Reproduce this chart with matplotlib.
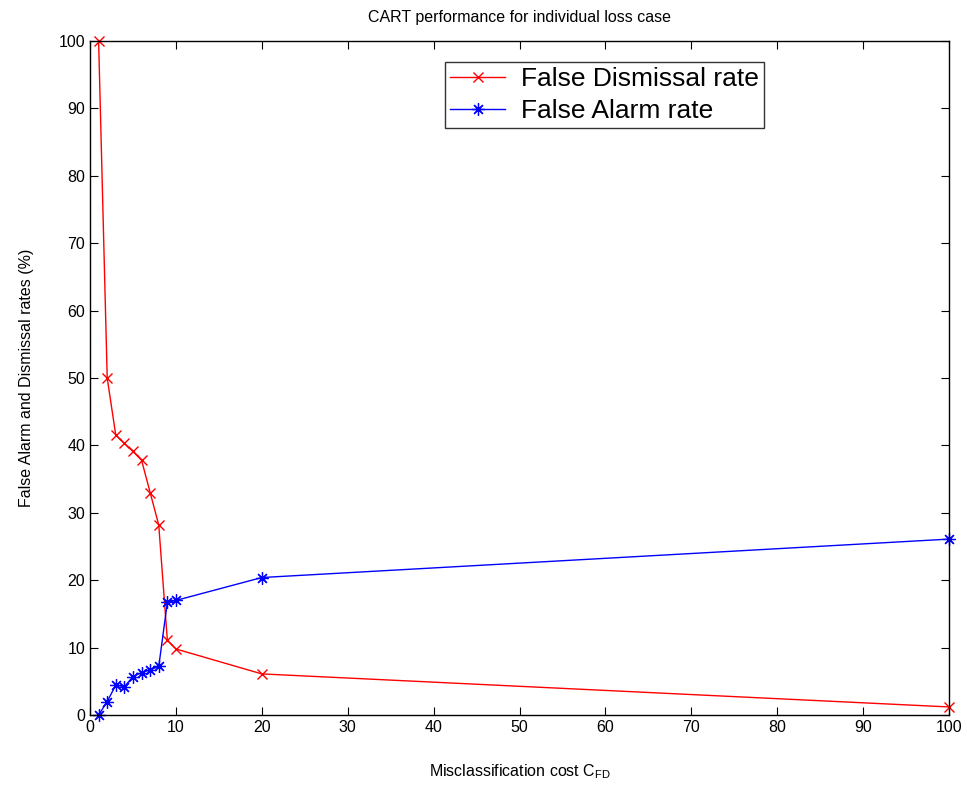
import matplotlib
matplotlib.use("Agg")
import matplotlib.pyplot as plt

plt.rcParams['font.family'] = ['Liberation Sans', 'DejaVu Sans']

cost = [1, 2, 3, 4, 5, 6, 7, 8, 9, 10, 20, 100]
false_dismissal = [100, 50.0, 41.5, 40.3, 39.1, 37.8, 33.0, 28.2, 11.1, 9.8, 6.1, 1.2]
false_alarm = [0, 2.0, 4.45, 4.2, 5.7, 6.3, 6.7, 7.2, 16.7, 17.0, 20.4, 26.1]
xticks = list(range(0, 101, 10))
yticks = list(range(0, 101, 10))

fig = plt.figure(figsize=(9.67, 7.9), dpi=100)
ax = fig.add_axes([0.0931, 0.0949, 0.8883, 0.8532])

ax.plot(cost, false_dismissal, color='red', marker='x', markersize=7, linewidth=1,
        label='False Dismissal rate', clip_on=False)
ax.plot(cost, false_alarm, color='blue', marker=(8, 2, 0), markersize=9, markeredgewidth=0.9,
        linewidth=1, label='False Alarm rate', clip_on=False)

ax.set_xlim(0, 100)
ax.set_ylim(0, 100)
ax.set_xticks(xticks)
ax.set_yticks(yticks)
ax.tick_params(direction='in', top=True, right=True, labelsize=11.5, length=6)
for s in ax.spines.values():
    s.set_linewidth(1)

ax.set_title('CART performance for individual loss case', fontsize=11.5, pad=14)
ax.set_xlabel('Misclassification cost C$_{\\mathregular{FD}}$', fontsize=11.5, labelpad=20)
ax.set_ylabel('False Alarm and Dismissal rates (%)', fontsize=11.5, labelpad=18)

leg = ax.legend(loc='upper left', bbox_to_anchor=(0.413, 0.969), borderaxespad=0,
                fancybox=False, edgecolor='black', fontsize=19, handlelength=2.1,
                borderpad=0.2, labelspacing=0.3, handletextpad=0.6)
leg.get_frame().set_linewidth(1)

fig.savefig('out.png', dpi=100)
